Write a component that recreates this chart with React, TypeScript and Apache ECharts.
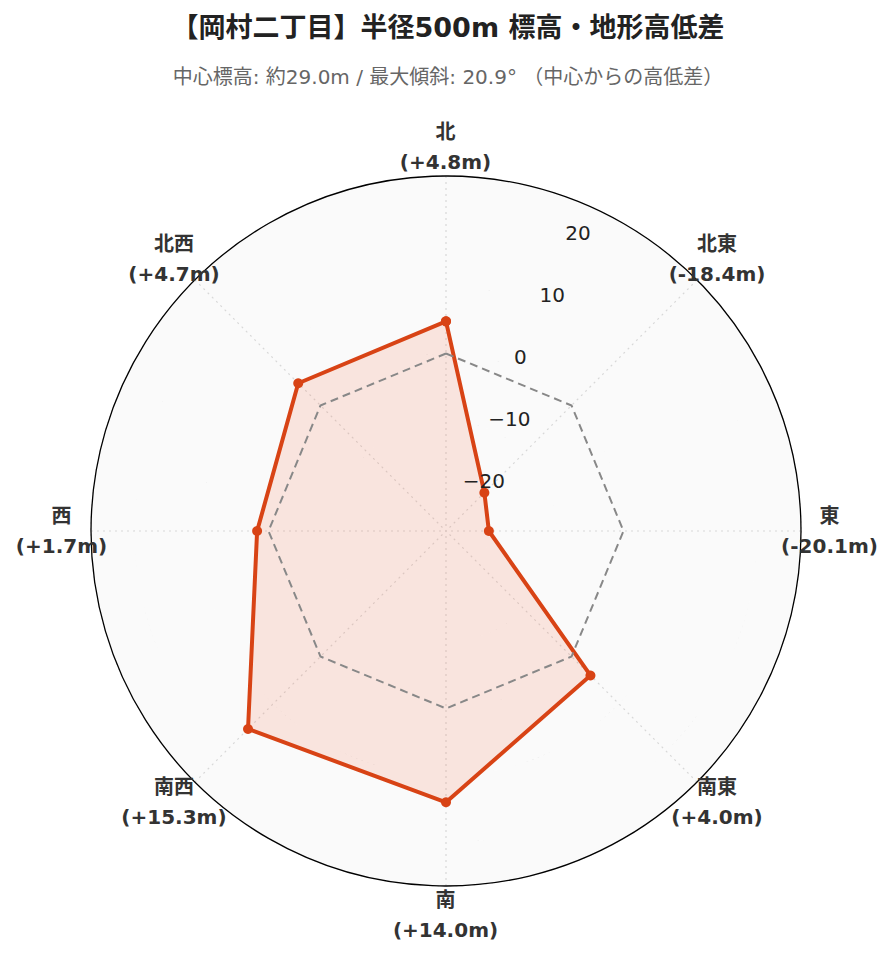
import React, { useEffect, useRef } from "react";
import * as echarts from "echarts";

const TITLE = "【岡村二丁目】半径500m 標高・地形高低差";
const SUBTITLE = "中心標高: 約29.0m / 最大傾斜: 20.9° （中心からの高低差）";

const directions = ["北", "北東", "東", "南東", "南", "南西", "西", "北西"];
const directionAngles = [0, 45, 90, 135, 180, 225, 270, 315];
const elevationDiff = [4.8, -18.4, -20.1, 4.0, 14.0, 15.3, 1.7, 4.7];
const referenceValues = [0, 0, 0, 0, 0, 0, 0, 0];
const radialMin = -26.5;
const radialMax = 26.5;

const FONT = "'DejaVu Sans', 'Noto Sans CJK JP', sans-serif";
const CX = 438;
const CY = 523;
const R = 355;

function closeLoop(vals: number[]) {
  const pts = vals.map((v, i) => [v, directionAngles[i]]);
  pts.push([vals[0], 360]);
  return pts;
}

function fmtTick(v: number) {
  return v < 0 ? "\u2212" + Math.abs(v) : String(v);
}

function fmtDiff(v: number) {
  return (v >= 0 ? "+" : "") + v.toFixed(1) + "m";
}

export default function App() {
  const ref = useRef<HTMLDivElement>(null);
  useEffect(() => {
    if (!ref.current) return;
    const chart = echarts.init(ref.current, null, { renderer: "svg" });
    const option: any = {
      animation: false,
      backgroundColor: "#ffffff",
      textStyle: { fontFamily: FONT },
      title: [
        {
          text: TITLE,
          left: "center",
          top: 1,
          textStyle: { fontSize: 27, fontWeight: "bold", color: "#222", fontFamily: FONT },
        },
        {
          text: SUBTITLE,
          left: "center",
          top: 54,
          textStyle: { fontSize: 20, fontWeight: "normal", color: "#666", fontFamily: FONT },
        },
      ],
      polar: [
        { center: [CX, CY], radius: R },
        { center: [CX, CY], radius: R },
        { center: [CX, CY], radius: R + 29 },
      ],
      angleAxis: [
        {
          polarIndex: 0,
          type: "value",
          min: 0,
          max: 360,
          interval: 45,
          startAngle: 90,
          clockwise: true,
          axisLine: { show: true, lineStyle: { color: "#000", width: 1.3 } },
          axisTick: { show: false },
          axisLabel: { show: false },
          splitLine: { show: true, lineStyle: { color: "#d8d8d8", type: [2, 4], width: 1.2 } },
        },
        { polarIndex: 1, type: "value", min: 0, max: 360, startAngle: 67.5, show: false },
        { polarIndex: 2, type: "value", min: 0, max: 360, startAngle: 90, clockwise: true, show: false },
      ],
      radiusAxis: [
        {
          polarIndex: 0,
          type: "value",
          min: radialMin,
          max: radialMax,
          splitNumber: 5,
          axisLine: { show: false },
          axisTick: { show: false },
          axisLabel: { show: false },
          splitLine: { show: true, lineStyle: { color: "#d8d8d8", type: [2, 4], width: 1.2 } },
          splitArea: { show: true, areaStyle: { color: ["#fafafa"] } },
        },
        {
          polarIndex: 1,
          type: "value",
          min: radialMin,
          max: radialMax,
          splitNumber: 5,
          axisLine: { show: false },
          axisTick: { show: false },
          splitLine: { show: false },
          axisLabel: {
            show: true,
            showMinLabel: false,
            showMaxLabel: false,
            margin: 0,
            align: "left",
            verticalAlign: "bottom",
            fontSize: 20,
            color: "#222",
            fontFamily: FONT,
            formatter: (v: number) => fmtTick(v),
          },
          z: 10,
        },
        { polarIndex: 2, type: "value", min: 0, max: 1, show: false },
      ],
      series: [
        {
          type: "line",
          coordinateSystem: "polar",
          polarIndex: 0,
          data: closeLoop(elevationDiff),
          symbol: "circle",
          symbolSize: 10,
          itemStyle: { color: "#d84315" },
          lineStyle: { color: "#d84315", width: 4 },
          areaStyle: { color: "rgba(244,81,30,0.18)", origin: "start" },
          z: 3,
        },
        {
          type: "line",
          coordinateSystem: "polar",
          polarIndex: 0,
          data: closeLoop(referenceValues),
          symbol: "none",
          lineStyle: { color: "#888", width: 2, type: [8, 5] },
          z: 4,
        },
        {
          type: "scatter",
          coordinateSystem: "polar",
          polarIndex: 2,
          silent: true,
          symbolSize: 1,
          itemStyle: { color: "#ffffff", opacity: 1 },
          data: directions.map((d, i) => ({ name: d, value: [1, directionAngles[i]] })),
          label: {
            show: true,
            position: [0, 0],
            align: "center",
            verticalAlign: "middle",
            fontSize: 20,
            fontWeight: "bold",
            color: "#333",
            opacity: 1,
            textBorderWidth: 0,
            lineHeight: 30,
            fontFamily: FONT,
            formatter: (p: any) => `${directions[p.dataIndex]}\n(${fmtDiff(elevationDiff[p.dataIndex])})`,
          },
          z: 20,
        },
      ],
    };
    chart.setOption(option);
    return () => chart.dispose();
  }, []);
  return <div ref={ref} style={{ width: 880, height: 946 }} />;
}
